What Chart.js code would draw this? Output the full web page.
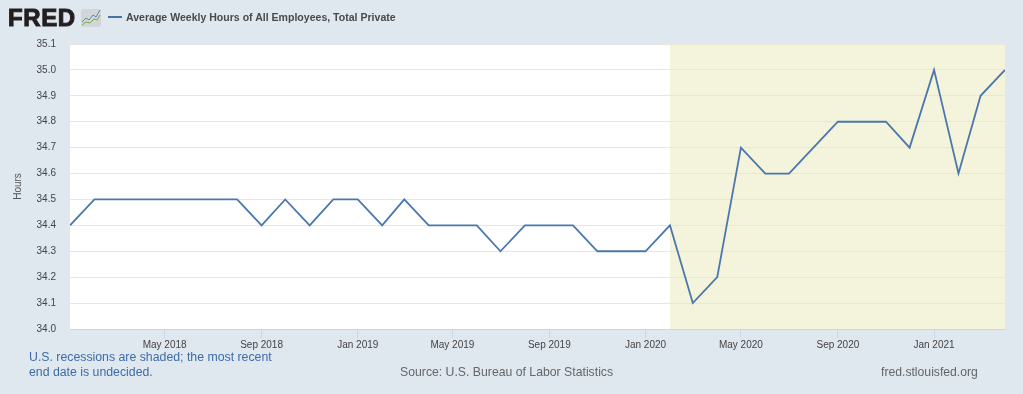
<!DOCTYPE html>
<html>
<head>
    <title>FRED - Average Weekly Hours</title>
    <style type="text/css">
        html, body { margin: 0; padding: 0; background: #dfe7ef; }
        #wrap { position: relative; width: 1023px; height: 394px; overflow: hidden; font-family: "Liberation Sans", sans-serif; }
        #chart-container { position: absolute; left: 0; top: 0; width: 1023px; height: 394px; }
        .txt { position: absolute; white-space: nowrap; }
        #logo { left: 8px; top: 3px; font-size: 24px; line-height: 30px; font-weight: bold; color: #231f20; letter-spacing: 0.6px; -webkit-text-stroke: 1px #231f20; }
        #logo-icon { position: absolute; left: 81px; top: 9px; }
        #legend-line { position: absolute; left: 108px; top: 16px; width: 14px; height: 2px; background: #4572a7; }
        #legend-text { left: 126px; top: 10px; font-size: 10.55px; line-height: 14px; font-weight: bold; color: #4a4a4a; }
        #note { left: 29px; top: 350px; font-size: 12.3px; line-height: 15px; color: #3e6ca8; }
        #source { left: 400px; top: 365px; font-size: 12.25px; line-height: 15px; color: #666; }
        #site { left: 881px; top: 365px; font-size: 12.2px; line-height: 15px; color: #666; }
    </style>
</head>

<body>
    <div id="wrap">
        <div id="chart-container">
            <canvas id="mycanvas" width="1023" height="394"></canvas>
        </div>
        <div class="txt" id="logo">FRED</div>
        <svg id="logo-icon" width="20" height="18" viewBox="0 0 20 18">
            <rect x="0" y="0" width="20" height="18" rx="2" fill="#d3d6d6"></rect>
            <polyline points="1,13 5,9 8,11 12,6 15,8 19,1" fill="none" stroke="#5b87b8" stroke-width="1"></polyline>
            <polyline points="1,16 5,13 9,14 13,10 16,11 19,6" fill="none" stroke="#7fa650" stroke-width="1"></polyline>
        </svg>
        <div id="legend-line"></div>
        <div class="txt" id="legend-text">Average Weekly Hours of All Employees, Total Private</div>
        <div class="txt" id="note">U.S. recessions are shaded; the most recent<br>end date is undecided.</div>
        <div class="txt" id="source">Source: U.S. Bureau of Labor Statistics</div>
        <div class="txt" id="site">fred.stlouisfed.org</div>
    </div>

    <script src="https://cdn.jsdelivr.net/npm/chart.js@4/dist/chart.umd.min.js"></script>
    <script>
        // monthly observations
        var months = [
            "2018-01", "2018-02", "2018-03", "2018-04", "2018-05", "2018-06", "2018-07", "2018-08", "2018-09", "2018-10", "2018-11", "2018-12",
            "2019-01", "2019-02", "2019-03", "2019-04", "2019-05", "2019-06", "2019-07", "2019-08", "2019-09", "2019-10", "2019-11", "2019-12",
            "2020-01", "2020-02", "2020-03", "2020-04", "2020-05", "2020-06", "2020-07", "2020-08", "2020-09", "2020-10", "2020-11", "2020-12",
            "2021-01", "2021-02", "2021-03", "2021-04"
        ];
        var hours = [
            34.4, 34.5, 34.5, 34.5, 34.5, 34.5, 34.5, 34.5, 34.4, 34.5, 34.4, 34.5,
            34.5, 34.4, 34.5, 34.4, 34.4, 34.4, 34.3, 34.4, 34.4, 34.4, 34.3, 34.3,
            34.3, 34.4, 34.1, 34.2, 34.7, 34.6, 34.6, 34.7, 34.8, 34.8, 34.8, 34.7,
            35.0, 34.6, 34.9, 35.0
        ];
        var tickMonths = ["2018-05", "2018-09", "2019-01", "2019-05", "2019-09", "2020-01", "2020-05", "2020-09", "2021-01"];
        var tickLabels = ["May 2018", "Sep 2018", "Jan 2019", "May 2019", "Sep 2019", "Jan 2020", "May 2020", "Sep 2020", "Jan 2021"];
        var recessionMonths = ["2020-02", "2021-04"];
        var yMin = 34.0;
        var yMax = 35.1;

        var toTime = function (m) {
            return Date.parse(m + "-01T00:00:00Z");
        };

        // white plot background, the page colour stays around it
        var plotBackground = {
            id: "plotBackground",
            beforeDraw: function (chart) {
                var a = chart.chartArea;
                chart.ctx.save();
                chart.ctx.fillStyle = "#ffffff";
                chart.ctx.fillRect(a.left, a.top, a.right - a.left, a.bottom - a.top);
                chart.ctx.restore();
            }
        };

        var chartdata = {
            datasets: [
                {
                    label: "Average Weekly Hours of All Employees, Total Private",
                    data: months.map(function (m, i) {
                        return { x: toTime(m), y: hours[i] };
                    }),
                    borderColor: "#4a77ac",
                    borderWidth: 1.8,
                    pointRadius: 0,
                    tension: 0,
                    fill: false,
                    order: 1
                },
                {
                    label: "Recession",
                    data: recessionMonths.map(function (m) {
                        return { x: toTime(m), y: yMax };
                    }),
                    borderWidth: 0,
                    borderColor: "rgba(0,0,0,0)",
                    backgroundColor: "rgba(234, 232, 184, 0.5)",
                    pointRadius: 0,
                    fill: "start",
                    order: 2
                }
            ]
        };

        var ctx = document.getElementById("mycanvas");
        var lineGraph = new Chart(ctx, {
            type: "line",
            data: chartdata,
            plugins: [plotBackground],
            options: {
                responsive: false,
                animation: false,
                layout: { padding: { left: 0, right: 18, top: 44, bottom: 0 } },
                plugins: { legend: { display: false }, tooltip: { enabled: false } },
                scales: {
                    x: {
                        type: "linear",
                        min: toTime(months[0]),
                        max: toTime(months[months.length - 1]),
                        afterBuildTicks: function (scale) {
                            scale.ticks = tickMonths.map(function (m) {
                                return { value: toTime(m) };
                            });
                        },
                        afterFit: function (scale) {
                            scale.height = 65;
                        },
                        grid: {
                            drawOnChartArea: false,
                            color: "#ccd6eb",
                            tickColor: "#ccd6eb",
                            tickLength: 9
                        },
                        border: { color: "#ccd6eb" },
                        ticks: {
                            autoSkip: false,
                            maxRotation: 0,
                            padding: 1,
                            color: "#444444",
                            font: { family: "Liberation Sans", size: 10 },
                            callback: function (value) {
                                var i = tickMonths.map(toTime).indexOf(value);
                                return i < 0 ? "" : tickLabels[i];
                            }
                        }
                    },
                    y: {
                        min: yMin,
                        max: yMax,
                        afterFit: function (scale) {
                            scale.width = 70;
                        },
                        grid: { color: "#e6e6e6", drawTicks: false },
                        border: { display: false },
                        ticks: {
                            stepSize: 0.1,
                            padding: 14,
                            color: "#444444",
                            font: { family: "Liberation Sans", size: 10 },
                            callback: function (value) {
                                return value.toFixed(1);
                            }
                        },
                        title: {
                            display: true,
                            text: "Hours",
                            color: "#555555",
                            font: { family: "Liberation Sans", size: 10 },
                            padding: { top: 12, bottom: 0 }
                        }
                    }
                }
            }
        });
    </script>
</body>

</html>
